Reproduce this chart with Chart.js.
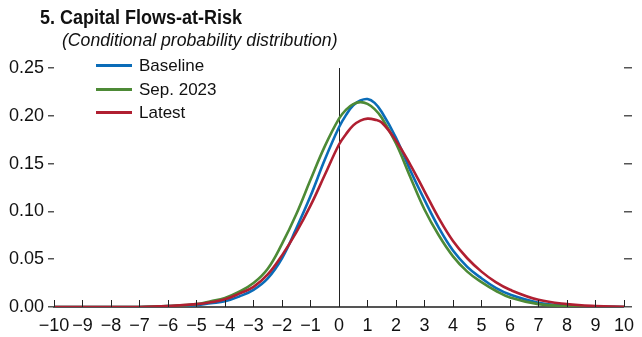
<!DOCTYPE html>
<html>
<head>
<meta charset="utf-8">
<script src="https://cdn.jsdelivr.net/npm/chart.js@4.4.1/dist/chart.umd.min.js"></script>
<style>
    html, body { margin: 0; padding: 0; background: #fff; }
    #wrap { position: relative; width: 642px; height: 337px; overflow: hidden; }
    #chart { position: absolute; left: 0; top: 0; }
    .title { position: absolute; left: 40px; top: 6px; font: bold 20px 'Liberation Sans', Arial, sans-serif; color: #111; white-space: nowrap; transform: scaleX(0.9); transform-origin: 0 0; }
    .subtitle { position: absolute; left: 62px; top: 30px; font: italic 18px 'Liberation Sans', Arial, sans-serif; color: #111; white-space: nowrap; transform: scaleX(0.98); transform-origin: 0 0; }
    #legend { position: absolute; left: 96px; top: 56px; font: 17px 'Liberation Sans', Arial, sans-serif; color: #111; }
    .item { height: 23.5px; line-height: 20px; white-space: nowrap; }
    .swatch { display: inline-block; width: 36px; height: 3px; vertical-align: middle; margin-right: 7px; position: relative; top: -1px; }
</style>
</head>
<body>
<div id="wrap">
    <canvas id="chart" width="642" height="337"></canvas>
    <div class="title">5. Capital Flows-at-Risk</div>
    <div class="subtitle">(Conditional probability distribution)</div>
    <div id="legend"></div>
</div>
<script>
const seriesNames = ['Baseline', 'Sep. 2023', 'Latest'];
const seriesColors = ['#0a6cb8', '#4d8a36', '#b01f31'];

const xValues = [-10, -9, -8, -7, -6, -5, -4.5, -4, -3.5, -3, -2.5, -2, -1.5, -1, -0.5, 0, 0.25, 0.5, 0.75, 1, 1.25, 1.5, 2, 2.5, 3, 3.5, 4, 4.5, 5, 5.5, 6, 7, 8, 9, 10];

const baseline = [0, 0, 0, 0, 0.001, 0.002, 0.004, 0.006, 0.011, 0.018, 0.030, 0.051, 0.082, 0.116, 0.154, 0.188, 0.201, 0.211, 0.216, 0.2175, 0.2135, 0.204, 0.177, 0.143, 0.112, 0.083, 0.059, 0.042, 0.030, 0.020, 0.013, 0.0045, 0.0015, 0.0005, 0];
const sep2023 = [0, 0, 0, 0, 0.001, 0.003, 0.006, 0.0095, 0.016, 0.025, 0.040, 0.066, 0.097, 0.133, 0.168, 0.197, 0.2065, 0.2122, 0.2143, 0.2125, 0.207, 0.198, 0.171, 0.136, 0.102, 0.075, 0.053, 0.037, 0.026, 0.017, 0.010, 0.003, 0.001, 0, 0];
const latest = [0, 0, 0, 0, 0.001, 0.003, 0.005, 0.008, 0.014, 0.021, 0.034, 0.054, 0.078, 0.106, 0.138, 0.170, 0.181, 0.190, 0.195, 0.197, 0.196, 0.193, 0.174, 0.149, 0.121, 0.093, 0.069, 0.051, 0.037, 0.026, 0.018, 0.0075, 0.003, 0.001, 0.0003];

const yTicks = [0, 0.05, 0.10, 0.15, 0.20, 0.25];

const tickFont = { family: "'Liberation Sans', Arial, sans-serif", size: 18 };

function toPoints(values) {
    return xValues.map((x, i) => ({ x: x, y: values[i] }));
}

// legend as html so the text stays text
const legendEl = document.getElementById('legend');
seriesNames.forEach((name, i) => {
    const row = document.createElement('div');
    row.className = 'item';
    const sw = document.createElement('span');
    sw.className = 'swatch';
    sw.style.background = seriesColors[i];
    row.appendChild(sw);
    row.appendChild(document.createTextNode(name));
    legendEl.appendChild(row);
});

// zero line and upward ticks on the x axis
const axisExtras = {
    id: 'axisExtras',
    beforeDatasetsDraw(chart) {
        const ctx = chart.ctx;
        const x = chart.scales.x;
        const y = chart.scales.y;
        ctx.save();
        ctx.strokeStyle = '#222';
        ctx.lineWidth = 1;
        const zx = Math.round(x.getPixelForValue(0)) + 0.5;
        ctx.beginPath();
        ctx.moveTo(zx, y.getPixelForValue(0.25));
        ctx.lineTo(zx, y.getPixelForValue(0));
        ctx.stroke();
        ctx.restore();
    },
    afterDatasetsDraw(chart) {
        const ctx = chart.ctx;
        const x = chart.scales.x;
        const base = chart.scales.y.getPixelForValue(0);
        ctx.save();
        ctx.strokeStyle = '#222';
        ctx.lineWidth = 1;
        x.ticks.forEach(t => {
            const px = Math.round(x.getPixelForValue(t.value)) + 0.5;
            ctx.beginPath();
            ctx.moveTo(px, base);
            ctx.lineTo(px, base - 7);
            ctx.stroke();
        });
        ctx.restore();
    }
};

new Chart(document.getElementById('chart'), {
    type: 'line',
    data: {
        datasets: [
            { label: seriesNames[0], data: toPoints(baseline), borderColor: seriesColors[0], order: 3 },
            { label: seriesNames[1], data: toPoints(sep2023), borderColor: seriesColors[1], order: 2 },
            { label: seriesNames[2], data: toPoints(latest), borderColor: seriesColors[2], order: 1 }
        ]
    },
    options: {
        responsive: false,
        animation: false,
        layout: { padding: { top: 68, left: 0, right: 0, bottom: 0 } },
        elements: {
            line: { borderWidth: 2.6, tension: 0.4, fill: false },
            point: { radius: 0 }
        },
        plugins: { legend: { display: false }, tooltip: { enabled: false } },
        scales: {
            x: {
                type: 'linear',
                min: -10,
                max: 10,
                afterFit: s => { s.height = 30; },
                border: { display: true, color: '#555', width: 2 },
                grid: { drawOnChartArea: false, drawTicks: false },
                ticks: {
                    stepSize: 1,
                    autoSkip: false,
                    maxRotation: 0,
                    padding: 8,
                    color: '#111',
                    font: tickFont,
                    callback: v => v < 0 ? '\u2212' + Math.abs(v) : String(v)
                }
            },
            y: {
                position: 'left',
                min: 0,
                max: 0.25,
                afterFit: s => { s.width = 54; },
                afterBuildTicks: s => { s.ticks = yTicks.map(v => ({ value: v })); },
                border: { display: false },
                grid: { drawOnChartArea: false, drawTicks: true, tickLength: 6, color: '#555', lineWidth: 1.5 },
                ticks: { padding: 4, color: '#111', font: tickFont, callback: v => v.toFixed(2) }
            },
            y2: {
                position: 'right',
                min: 0,
                max: 0.25,
                afterFit: s => { s.width = 10; },
                afterBuildTicks: s => { s.ticks = yTicks.map(v => ({ value: v })); },
                border: { display: false },
                grid: { drawOnChartArea: false, drawTicks: true, tickLength: 8, color: '#555', lineWidth: 1.5 },
                ticks: { display: false }
            }
        }
    },
    plugins: [axisExtras]
});
</script>
</body>
</html>
